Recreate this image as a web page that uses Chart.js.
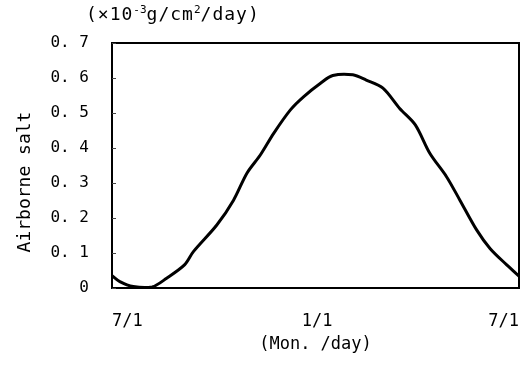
<!DOCTYPE html>
<html>
<head>
<meta charset="utf-8">
<style>
  html, body { margin: 0; padding: 0; background: #fff; }
  #wrap { position: relative; width: 524px; height: 367px; }
  #unit {
    position: absolute; left: 86px; top: 3px; letter-spacing: 1px;
    font: 18px "DejaVu Sans Mono", monospace; color: #000; white-space: nowrap;
  }
  #unit sup { font-size: 11px; vertical-align: 7px; line-height: 0; letter-spacing: 0; }
</style>
<script src="https://cdn.jsdelivr.net/npm/chart.js@4.4.1/dist/chart.umd.min.js"></script>
</head>
<body>
<div id="wrap">
  <canvas id="saltChart" width="524" height="367"></canvas>
  <div id="unit">(×10<sup>-3</sup>g/cm<sup>2</sup>/day)</div>
</div>
<script>
// days counted from 7/1
const dayOfYear = [0, 7, 19, 36, 49, 65, 73, 94, 109, 121, 133, 145, 160, 172,
                   187, 198, 216, 228, 243, 258, 272, 285, 300, 312, 327, 339, 354, 365];
const airborneSalt = [0.035, 0.018, 0.004, 0.003, 0.028, 0.066, 0.104, 0.18, 0.251, 0.328, 0.38, 0.442, 0.509, 0.547,
                      0.585, 0.607, 0.609, 0.594, 0.571, 0.513, 0.466, 0.385, 0.318, 0.251, 0.166, 0.113, 0.066, 0.034];
const xTickDays = [0, 184, 365];
const xTickLabels = ['7/1', '1/1', '7/1'];
const yTitle = 'Airborne salt';

const FONT = '"DejaVu Sans Mono", monospace';

// frame around the plot, small inner ticks on y and the y title
const framePlugin = {
    id: 'frame',
    afterDraw(chart) {
        const { ctx, chartArea: a, scales } = chart;
        ctx.save();
        ctx.strokeStyle = '#000';
        ctx.lineWidth = 2;
        ctx.strokeRect(a.left, a.top, a.right - a.left, a.bottom - a.top);

        ctx.lineWidth = 1;
        ctx.strokeStyle = '#444';
        scales.y.ticks.forEach(t => {
            const y = Math.round(scales.y.getPixelForValue(t.value)) + 0.5;
            ctx.beginPath();
            ctx.moveTo(a.left, y);
            ctx.lineTo(a.left + 4, y);
            ctx.stroke();
        });

        ctx.fillStyle = '#000';
        ctx.font = '18px ' + FONT;
        ctx.textAlign = 'center';
        ctx.textBaseline = 'middle';
        ctx.translate(25, 182);
        ctx.rotate(-Math.PI / 2);
        ctx.fillText(yTitle, 0, 0);
        ctx.restore();
    }
};

new Chart(document.getElementById('saltChart'), {
    type: 'line',
    data: {
        datasets: [{
            data: dayOfYear.map((d, i) => ({ x: d, y: airborneSalt[i] })),
            borderColor: '#000',
            borderWidth: 3,
            pointRadius: 0,
            tension: 0.3,
            fill: false
        }]
    },
    options: {
        responsive: false,
        animation: false,
        layout: { padding: { top: 43, right: 5, left: 0, bottom: 0 } },
        plugins: { legend: { display: false }, tooltip: { enabled: false } },
        scales: {
            x: {
                type: 'linear',
                min: 0,
                max: 365,
                afterBuildTicks: s => { s.ticks = xTickDays.map(v => ({ value: v })); },
                afterFit: s => { s.height = 79; s.paddingLeft = 0; s.paddingRight = 0; },
                grid: { display: false },
                border: { display: false },
                ticks: {
                    align: 'inner',
                    padding: 15,
                    maxRotation: 0,
                    color: '#000',
                    font: { family: FONT, size: 17 },
                    callback: (v, i) => xTickLabels[i]
                },
                title: {
                    display: true,
                    text: '(Mon. /day)',
                    color: '#000',
                    font: { family: FONT, size: 17 },
                    padding: { top: 0, bottom: 12 }
                }
            },
            y: {
                min: 0,
                max: 0.7,
                afterFit: s => { s.width = 112; },
                grid: { display: false },
                border: { display: false },
                ticks: {
                    stepSize: 0.1,
                    padding: 15,
                    color: '#000',
                    font: { family: FONT, size: 16 },
                    callback: v => v === 0 ? '0' : v.toFixed(1).replace('.', '. ')
                }
            }
        }
    },
    plugins: [framePlugin]
});
</script>
</body>
</html>
